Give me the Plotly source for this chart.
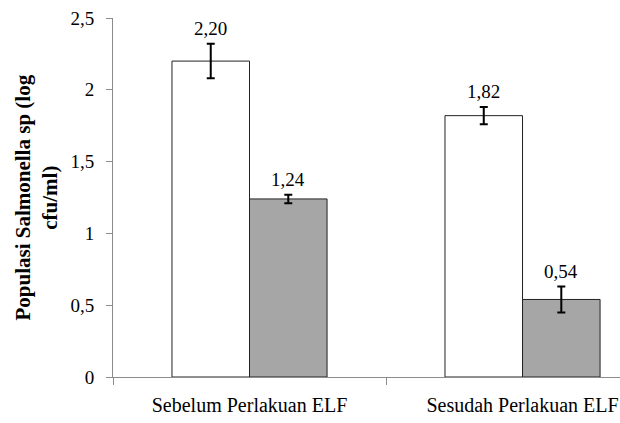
import plotly.graph_objects as go

categories = ["Sebelum Perlakuan ELF", "Sesudah Perlakuan ELF"]
series_names = ["Kontrol", "ELF"]
values_white = [2.20, 1.82]
values_gray = [1.24, 0.54]
err_white = [0.12, 0.06]
err_gray = [0.03, 0.09]
label_white = ["2,20", "1,82"]
label_gray = ["1,24", "0,54"]
y_tickvals = [0, 0.5, 1, 1.5, 2, 2.5]
y_ticktext = ["0", "0,5", "1", "1,5", "2", "2,5"]

FONT = "Liberation Serif, Times New Roman, serif"

fig = go.Figure()
fig.add_trace(go.Bar(
    x=categories, y=values_white, name=series_names[0],
    marker=dict(color="white", line=dict(color="#222222", width=1)),
    error_y=dict(type="data", array=err_white, color="black", thickness=2, width=4),
))
fig.add_trace(go.Bar(
    x=categories, y=values_gray, name=series_names[1],
    marker=dict(color="#a6a6a6", line=dict(color="#222222", width=1)),
    error_y=dict(type="data", array=err_gray, color="black", thickness=2, width=4),
))

off = 0.142
for i in range(len(categories)):
    fig.add_annotation(x=i - off, y=values_white[i] + err_white[i], text=label_white[i],
                       showarrow=False, yanchor="bottom", yshift=3,
                       font=dict(family=FONT, size=19, color="black"))
    fig.add_annotation(x=i + off, y=values_gray[i] + err_gray[i], text=label_gray[i],
                       showarrow=False, yanchor="bottom", yshift=3,
                       font=dict(family=FONT, size=19, color="black"))

fig.add_annotation(xref="paper", yref="paper", x=(36 - 113) / 507, y=0.50,
                   text="<b>Populasi Salmonella sp (log<br>cfu/ml)</b>",
                   textangle=-90, showarrow=False, xanchor="center", yanchor="middle",
                   font=dict(family=FONT, size=21, color="black"))

fig.update_layout(
    width=620, height=423,
    margin=dict(l=113, r=0, t=18, b=46),
    paper_bgcolor="white", plot_bgcolor="white",
    barmode="group", bargap=0.432, bargroupgap=0,
    showlegend=False,
    font=dict(family=FONT, size=18, color="black"),
)
fig.update_xaxes(
    type="category", range=[-0.5, 1.357],
    showline=True, linecolor="#8c8c8c", linewidth=1,
    ticks="outside", tickson="boundaries", ticklen=7, tickcolor="#8c8c8c",
    ticklabelstandoff=10,
    tickfont=dict(family=FONT, size=20, color="black"),
    showgrid=False, zeroline=False,
)
fig.update_yaxes(
    range=[0, 2.5], tickvals=y_tickvals, ticktext=y_ticktext,
    showline=True, linecolor="#8c8c8c", linewidth=1,
    ticks="outside", ticklen=6, tickcolor="#8c8c8c",
    ticklabelstandoff=8,
    tickfont=dict(family=FONT, size=19, color="black"),
    showgrid=False, zeroline=False,
)

fig.write_html("out.html", config={"displayModeBar": False},
               post_script="document.body.style.margin='0';")
